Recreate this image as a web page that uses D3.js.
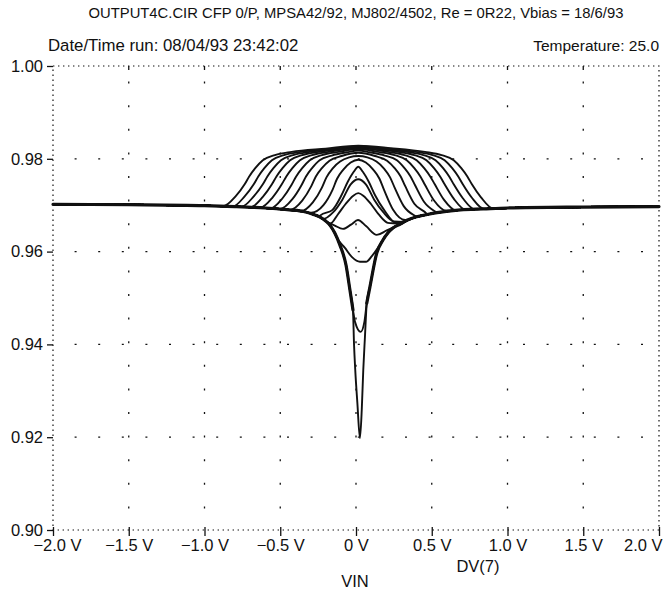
<!DOCTYPE html>
<html><head><meta charset="utf-8">
<script src="https://cdn.jsdelivr.net/npm/d3@7"></script>
<style>body{margin:0;background:#fff}svg{display:block}</style>
</head><body><svg id="c" width="664" height="589"></svg>
<script>
// ---- axis data ----
const xTicks = [-2, -1.5, -1, -0.5, 0, 0.5, 1, 1.5, 2];
const xTickLabels = ["\u22122.0 V", "\u22121.5 V", "\u22121.0 V", "\u22120.5 V", "0 V", "0.5 V", "1.0 V", "1.5 V", "2.0 V"];
const yTicks = [0.90, 0.92, 0.94, 0.96, 0.98, 1.00];
const yTickLabels = ["0.90", "0.92", "0.94", "0.96", "0.98", "1.00"];
const titleText = "OUTPUT4C.CIR CFP 0/P, MPSA42/92, MJ802/4502, Re  = 0R22, Vbias = 18/6/93";
const runText = "Date/Time run: 08/04/93 23:42:02";
const tempText = "Temperature: 25.0";
const traceLabel = "DV(7)";
const xLabel = "VIN";

// ---- series data: [VIN, DV(7)] ----
const envelope = [[-2.00,0.9702],[-1.50,0.9701],[-1.00,0.9699],[-0.80,0.9697],[-0.60,0.9694],[-0.44,0.9690],[-0.34,0.9686],[-0.28,0.9680],[-0.24,0.9675],[-0.20,0.9666],[-0.17,0.9656],[-0.14,0.9640],[-0.106,0.9614],[-0.066,0.9571],[-0.040,0.9517],[-0.020,0.9474],
  [0.071,0.9489],[0.092,0.9524],[0.137,0.9597],[0.178,0.9625],[0.21,0.9640],[0.244,0.9651],[0.29,0.9659],[0.34,0.9668],[0.40,0.9675],[0.47,0.9680],[0.535,0.9684],[0.69,0.9690],[0.84,0.9692],[1.00,0.9694],[1.50,0.9696],[2.00,0.9697]];
const dipA = [[-0.013,0.9400],[-0.005,0.9345],[0.009,0.9274],[0.026,0.9198],[0.038,0.9259],[0.048,0.9345],[0.059,0.9416]];
const dipB = [[-0.006,0.9448],[0.031,0.9427],[0.055,0.9448]];
const curveC = [[-0.13,0.9632],[-0.073,0.9608],[-0.026,0.9588],[0.026,0.9578],[0.066,0.9578],[0.106,0.9591],[0.145,0.9608],[0.19,0.9632]];
const curveD = [[-0.20,0.9666],[-0.14,0.9656],[-0.086,0.9649],[-0.033,0.9658],[0.013,0.9668],[0.066,0.9655],[0.137,0.9636],[0.20,0.9645],[0.27,0.9656],[0.34,0.9668]];
const curveE = [[-0.17,0.9660],[-0.12,0.9680],[-0.07,0.9702],[-0.02,0.9720],[0.015,0.9726],[0.05,0.9720],[0.10,0.9702],[0.15,0.9680],[0.21,0.9662],[0.28,0.9660]];
const curveF = [[-0.22,0.9670],[-0.15,0.9685],[-0.09,0.9712],[-0.035,0.9745],[0.015,0.9756],[0.065,0.9745],[0.12,0.9712],[0.18,0.9685],[0.25,0.9665],[0.31,0.9664]];
const curveG = [[-0.235,0.9678],[-0.155,0.9690],[-0.095,0.9722],[-0.055,0.9750],[-0.015,0.9772],[0.015,0.9783],[0.045,0.9772],[0.085,0.9750],[0.125,0.9722],[0.185,0.9690],[0.265,0.9662],[0.33,0.9667]];
const curveH = [[-0.295,0.9684],[-0.215,0.9700],[-0.155,0.9733],[-0.125,0.9757],[-0.085,0.9776],[-0.035,0.9792],[0.015,0.9798],[0.065,0.9792],[0.115,0.9776],[0.155,0.9757],[0.185,0.9733],[0.245,0.9690],[0.325,0.9668]];
const curveI = [[-0.365,0.9687],[-0.285,0.9706],[-0.225,0.9738],[-0.195,0.9760],[-0.155,0.9779],[-0.105,0.9794],[-0.045,0.9803],[0.015,0.9806],[0.075,0.9803],[0.135,0.9794],[0.185,0.9779],[0.225,0.9760],[0.255,0.9738],[0.315,0.9698],[0.395,0.9676]];
const curveJ = [[-0.435,0.9690],[-0.355,0.9710],[-0.295,0.9741],[-0.265,0.9762],[-0.225,0.9780],[-0.175,0.9796],[-0.095,0.9806],[0.015,0.9813],[0.125,0.9806],[0.205,0.9796],[0.255,0.9780],[0.295,0.9762],[0.325,0.9741],[0.385,0.9703],[0.465,0.9682]];
const curveK = [[-0.50,0.9692],[-0.42,0.9713],[-0.36,0.9743],[-0.33,0.9762],[-0.29,0.9780],[-0.24,0.9797],[-0.16,0.9807],[-0.06,0.9814],[0.015,0.9818],[0.09,0.9814],[0.19,0.9807],[0.27,0.9797],[0.32,0.9780],[0.36,0.9762],[0.39,0.9743],[0.45,0.9707],[0.53,0.9685]];
const curveL = [[-0.565,0.9693],[-0.485,0.9715],[-0.425,0.9744],[-0.395,0.9762],[-0.355,0.9780],[-0.305,0.9797],[-0.225,0.9808],[-0.115,0.9815],[0.015,0.9821],[0.145,0.9815],[0.255,0.9808],[0.335,0.9797],[0.385,0.9780],[0.425,0.9762],[0.455,0.9744],[0.515,0.9710],[0.595,0.9688]];
const curveM = [[-0.63,0.9695],[-0.55,0.9717],[-0.49,0.9745],[-0.46,0.9762],[-0.42,0.9780],[-0.37,0.9797],[-0.29,0.9808],[-0.18,0.9815],[0.015,0.9823],[0.21,0.9815],[0.32,0.9808],[0.40,0.9797],[0.45,0.9780],[0.49,0.9762],[0.52,0.9745],[0.58,0.9712],[0.66,0.9689]];
const curveN = [[-0.695,0.9696],[-0.615,0.9718],[-0.555,0.9745],[-0.525,0.9762],[-0.485,0.9780],[-0.435,0.9797],[-0.355,0.9808],[-0.245,0.9815],[0.015,0.9825],[0.275,0.9815],[0.385,0.9808],[0.465,0.9797],[0.515,0.9780],[0.555,0.9762],[0.585,0.9745],[0.645,0.9714],[0.725,0.9690]];
const curveO = [[-0.755,0.9697],[-0.675,0.9719],[-0.615,0.9745],[-0.585,0.9762],[-0.545,0.9780],[-0.495,0.9797],[-0.415,0.9808],[-0.305,0.9815],[-0.10,0.9821],[0.015,0.9826],[0.13,0.9822],[0.335,0.9815],[0.445,0.9808],[0.525,0.9797],[0.575,0.9780],[0.615,0.9762],[0.645,0.9745],[0.705,0.9715],[0.785,0.9691]];
const curveP = [[-0.815,0.9697],[-0.735,0.9719],[-0.675,0.9745],[-0.645,0.9762],[-0.605,0.9780],[-0.555,0.9797],[-0.475,0.9808],[-0.365,0.9815],[-0.15,0.9821],[0.015,0.9827],[0.18,0.9822],[0.395,0.9815],[0.505,0.9808],[0.585,0.9797],[0.635,0.9780],[0.675,0.9762],[0.705,0.9745],[0.765,0.9716],[0.845,0.9692]];
const curveQ = [[-0.875,0.9698],[-0.795,0.9719],[-0.735,0.9745],[-0.705,0.9762],[-0.665,0.9780],[-0.615,0.9797],[-0.535,0.9808],[-0.425,0.9815],[-0.20,0.9822],[0.015,0.9828],[0.23,0.9823],[0.455,0.9815],[0.565,0.9808],[0.645,0.9797],[0.695,0.9780],[0.735,0.9762],[0.765,0.9745],[0.825,0.9717],[0.905,0.9693]];

// build full traces: own points, with the shared envelope outside them
function withEnvelope(own) {
  const lo = own[0][0], hi = own[own.length - 1][0];
  return envelope.filter(p => p[0] < lo).concat(own, envelope.filter(p => p[0] > hi));
}
const traceA = envelope.concat(dipA).sort((a, b) => a[0] - b[0]);
const traceB = envelope.concat(dipB).sort((a, b) => a[0] - b[0]);
const traces = [traceA, traceB].concat([curveC, curveD, curveE, curveF, curveG, curveH, curveI, curveJ, curveK, curveL, curveM, curveN, curveO, curveP, curveQ].map(withEnvelope));
// the two flanks of the shared locus (left and right of the central dip)
const bundles = [envelope.filter(p => p[0] < 0), envelope.filter(p => p[0] > 0)];

// ---- drawing ----
const pL = 53, pR = 659, pT = 66, pB = 530;
const font = "'Liberation Sans', Arial, Helvetica, sans-serif";
const ink = "#111";
const svg = d3.select("#c");
const x = d3.scaleLinear().domain([-2, 2]).range([pL, pR]);
const y = d3.scaleLinear().domain([0.90, 1.00]).range([pB, pT]);

// inner dotted grid
svg.append("g").selectAll("line").data(yTicks.slice(1, -1)).join("line")
  .attr("x1", pL).attr("x2", pR).attr("y1", d => y(d)).attr("y2", d => y(d))
  .attr("stroke", ink).attr("stroke-width", 1.3).attr("stroke-dasharray", "0,21.6,2,0");
svg.append("g").selectAll("line").data(xTicks.slice(1, -1)).join("line")
  .attr("y1", pB).attr("y2", pT).attr("x1", d => x(d)).attr("x2", d => x(d))
  .attr("stroke", ink).attr("stroke-width", 1.3).attr("stroke-dasharray", "0,21.6,2,0");

// dotted frame
svg.append("rect").attr("x", pL).attr("y", pT).attr("width", pR - pL).attr("height", pB - pT)
  .attr("fill", "none").attr("stroke", ink).attr("stroke-width", 1.2).attr("stroke-dasharray", "1.4,3.6");

// y axis
const yAxis = d3.axisLeft(y).tickValues(yTicks).tickFormat((d, i) => yTickLabels[i]).tickSize(6).tickPadding(4);
const gy = svg.append("g").attr("transform", `translate(${pL},0)`).call(yAxis);
gy.select(".domain").remove();
gy.selectAll("text").attr("font-family", font).attr("font-size", 16.5).attr("fill", ink);
gy.selectAll("line").attr("stroke", ink).attr("stroke-width", 1.3);

// x axis (bottom)
const xAxis = d3.axisBottom(x).tickValues(xTicks).tickFormat((d, i) => xTickLabels[i]).tickSize(6).tickPadding(3);
const gx = svg.append("g").attr("transform", `translate(0,${pB})`).call(xAxis);
gx.select(".domain").remove();
gx.selectAll("text").attr("font-family", font).attr("font-size", 16.5).attr("fill", ink);
gx.selectAll("line").attr("stroke", ink).attr("stroke-width", 1.3).attr("y1", -3);
gx.selectAll(".tick").filter((d, i) => i === 0).select("text").attr("dx", 4);
gx.selectAll(".tick").filter((d, i) => i === xTicks.length - 1).select("text").attr("text-anchor", "end").attr("dx", 3);

// top ticks
svg.append("g").selectAll("line").data(xTicks.slice(1, -1)).join("line")
  .attr("x1", d => x(d)).attr("x2", d => x(d)).attr("y1", pT).attr("y2", pT + 4)
  .attr("stroke", ink).attr("stroke-width", 1.3);

// traces
const line = d3.line().x(d => x(d[0])).y(d => y(d[1])).curve(d3.curveMonotoneX);
svg.append("g").selectAll("path").data(bundles).join("path")
  .attr("d", line).attr("fill", "none")
  .attr("stroke", ink).attr("stroke-width", 3.2).attr("stroke-linejoin", "round").attr("stroke-linecap", "round");
svg.append("g").selectAll("path").data(traces).join("path")
  .attr("d", line).attr("fill", "none").attr("stroke", ink)
  .attr("stroke-width", 1.9).attr("stroke-linejoin", "round");

// texts
svg.append("text").attr("x", 356).attr("y", 18).attr("text-anchor", "middle")
  .attr("font-family", font).attr("font-size", 14.8).attr("fill", ink).text(titleText);
svg.append("text").attr("x", 48).attr("y", 51).attr("font-family", font).attr("font-size", 16.8).attr("fill", ink).text(runText);
svg.append("text").attr("x", 659).attr("y", 51).attr("text-anchor", "end").attr("font-family", font).attr("font-size", 15.5).attr("fill", ink).text(tempText);
svg.append("text").attr("x", 478).attr("y", 572).attr("text-anchor", "middle").attr("font-family", font).attr("font-size", 16.5).attr("fill", ink).text(traceLabel);
svg.append("text").attr("x", 355).attr("y", 587).attr("text-anchor", "middle").attr("font-family", font).attr("font-size", 16.5).attr("fill", ink).text(xLabel);
</script></body></html>
